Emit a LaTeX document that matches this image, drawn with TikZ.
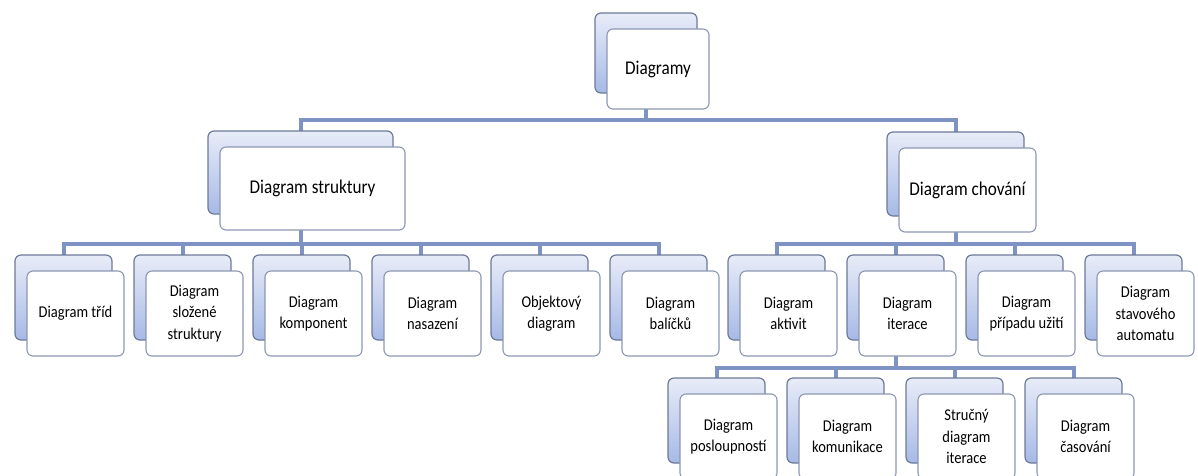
\documentclass[tikz,border=0pt]{standalone}
\usepackage{fontspec}
\setmainfont[FakeStretch=0.88]{Carlito}
\usetikzlibrary{backgrounds}
\definecolor{linkblue}{RGB}{126,147,196}
\definecolor{backtop}{RGB}{232,236,248}
\definecolor{backbot}{RGB}{166,185,230}
\definecolor{backedge}{RGB}{108,122,152}
\definecolor{frontedge}{RGB}{140,152,178}
\tikzset{
  backbox/.style={draw=backedge, line width=1.2pt, rounded corners=6pt,
    top color=backtop, bottom color=backbot, anchor=north west,
    inner sep=0pt, outer sep=0pt},
  frontbox/.style={draw=frontedge, line width=1.1pt, rounded corners=6pt,
    fill=white, anchor=north west, inner sep=0pt, outer sep=0pt,
    align=center, font=\fontsize{16.5}{21.5}\selectfont},
  bigtext/.style={font=\fontsize{19.5}{23}\selectfont},
  conn/.style={draw=linkblue, line width=4pt, line join=miter},
}
% two stacked boxes: #1 name, #2 x, #3 y, #4 width, #5 height, #6 label, #7 extra style
\newcommand{\twinbox}[7]{%
  \node[backbox, minimum width=#4pt, minimum height=#5pt] (#1-b) at (#2,#3) {};
  \node[frontbox, minimum width=#4pt, minimum height=#5pt, #7] (#1) at (#2+12,#3+16) {#6};
}
\begin{document}
\begin{tikzpicture}[x=1pt,y=-1pt]
\useasboundingbox (0,0) rectangle (1198,475);
\begin{scope}
\clip (0,0) rectangle (1198,475);
% root
\twinbox{root}{595}{13}{102}{80}{Diagramy}{bigtext}
% first level
\twinbox{struct}{208}{131}{185}{83}{Diagram struktury}{bigtext}
\twinbox{behav}{887}{132}{137}{84}{Diagram chování}{bigtext}
% structure diagrams
\twinbox{cls}{15}{255}{97}{85}{Diagram tříd}{}
\twinbox{comp}{134}{255}{97}{85}{Diagram\\složené\\struktury}{}
\twinbox{kmp}{253}{255}{97}{85}{Diagram\\komponent}{}
\twinbox{dep}{372}{255}{97}{85}{Diagram\\nasazení}{}
\twinbox{obj}{491}{255}{97}{85}{Objektový\\diagram}{}
\twinbox{pkg}{610}{255}{97}{85}{Diagram\\balíčků}{}
% behaviour diagrams
\twinbox{act}{728}{255}{97}{85}{Diagram\\aktivit}{}
\twinbox{inter}{847}{255}{97}{85}{Diagram\\iterace}{}
\twinbox{uc}{966}{255}{97}{85}{Diagram\\případu užití}{}
\twinbox{sm}{1085}{255}{97}{85}{Diagram\\stavového\\automatu}{}
% interaction diagrams
\twinbox{seq}{668}{378}{97}{85}{Diagram\\posloupností}{}
\twinbox{com}{787}{378}{97}{85}{Diagram\\komunikace}{}
\twinbox{ov}{906}{378}{97}{85}{Stručný\\diagram\\iterace}{}
\twinbox{tim}{1025}{378}{97}{85}{Diagram\\časování}{}
% connectors
\coordinate (barA) at (0,120);
\coordinate (barB) at (0,244);
\coordinate (barC) at (0,368);
\begin{pgfonlayer}{background}
\foreach \c in {struct,behav}
  \draw[conn] (root-b.center) -- (root-b.center |- barA) -| (\c-b.north);
\foreach \c in {cls,comp,kmp,dep,obj,pkg}
  \draw[conn] (struct-b.center) -- (struct-b.center |- barB) -| (\c-b.north);
\foreach \c in {act,inter,uc,sm}
  \draw[conn] (behav-b.center) -- (behav-b.center |- barB) -| (\c-b.north);
\foreach \c in {seq,com,ov,tim}
  \draw[conn] (inter-b.center) -- (inter-b.center |- barC) -| (\c-b.north);
\end{pgfonlayer}
\end{scope}
\end{tikzpicture}
\end{document}
